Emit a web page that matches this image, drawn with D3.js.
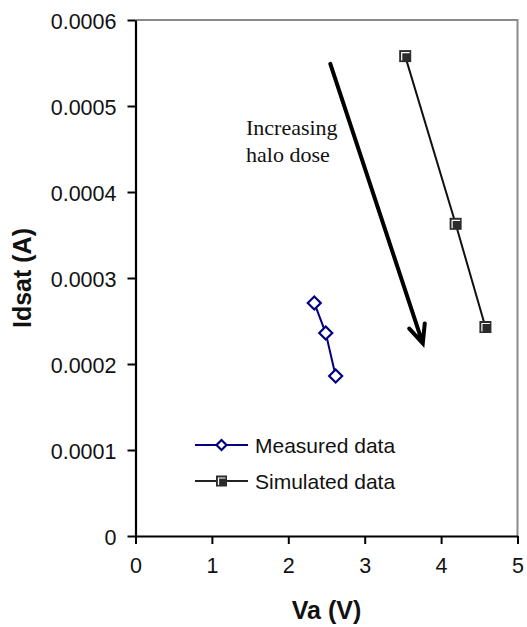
<!DOCTYPE html>
<html>
<head>
<meta charset="utf-8">
<script src="https://cdn.jsdelivr.net/npm/d3@7"></script>
<style>
  html, body { margin: 0; padding: 0; background: #fff; }
  svg { display: block; }
</style>
</head>
<body>
<svg id="chart" width="527" height="627"></svg>
<script>
// Saturation current vs. Va for measured and simulated devices
const measuredVa = [2.34, 2.49, 2.62];
const measuredIdsat = [0.000271, 0.000236, 0.000186];
const simulatedVa = [3.53, 4.19, 4.58];
const simulatedIdsat = [0.000558, 0.000363, 0.000243];

const xTicks = [0, 1, 2, 3, 4, 5];
const yTicks = [0, 0.0001, 0.0002, 0.0003, 0.0004, 0.0005, 0.0006];

// Annotation arrow endpoints (data units) and its label
const arrowStart = [2.55, 0.000549];
const arrowEnd = [3.76, 0.000224];
const arrowLabel = ["Increasing", "halo dose"];

const seriesNames = ["Measured data", "Simulated data"];

const svg = d3.select("#chart");
const plotLeft = 135.5, plotRight = 517.5, plotTop = 20, plotBottom = 536;

const x = d3.scaleLinear().domain([0, 5]).range([plotLeft, plotRight]);
const y = d3.scaleLinear().domain([0, 0.0006]).range([plotBottom, plotTop]);

const tickFont = "'Liberation Sans', Arial, sans-serif";

// plot frame: top and right edges in gray
svg.append("path")
  .attr("d", `M${plotLeft},${plotTop}H${plotRight}V${plotBottom}`)
  .attr("fill", "none")
  .attr("stroke", "#8a8a8a")
  .attr("stroke-width", 2);

// y axis
const yAxis = svg.append("g")
  .attr("transform", `translate(${plotLeft},0)`)
  .call(d3.axisLeft(y).tickValues(yTicks).tickSize(8).tickSizeOuter(0).tickPadding(11)
    .tickFormat(d => d === 0 ? "0" : d.toFixed(4)));

// x axis
const xAxis = svg.append("g")
  .attr("transform", `translate(0,${plotBottom})`)
  .call(d3.axisBottom(x).tickValues(xTicks).tickSize(8).tickSizeOuter(0).tickPadding(14)
    .tickFormat(d3.format("d")));

[yAxis, xAxis].forEach(g => {
  g.select(".domain").attr("stroke", "#000").attr("stroke-width", 2.2);
  g.selectAll(".tick line").attr("stroke", "#000").attr("stroke-width", 2);
  g.selectAll(".tick text")
    .attr("fill", "#111")
    .style("font-family", tickFont)
    .style("font-size", "21.5px");
});
yAxis.selectAll(".tick text").attr("dy", "0.38em");

// axis titles
svg.append("text")
  .attr("x", (plotLeft + plotRight) / 2)
  .attr("y", 619)
  .attr("text-anchor", "middle")
  .style("font-family", tickFont)
  .style("font-weight", "bold")
  .style("font-size", "25px")
  .attr("fill", "#111")
  .text("Va (V)");

svg.append("text")
  .attr("transform", `translate(31,${(plotTop + plotBottom) / 2}) rotate(-90)`)
  .attr("text-anchor", "middle")
  .style("font-family", tickFont)
  .style("font-weight", "bold")
  .style("font-size", "25px")
  .attr("fill", "#111")
  .text("Idsat (A)");

// series
const measured = measuredVa.map((v, i) => [v, measuredIdsat[i]]);
const simulated = simulatedVa.map((v, i) => [v, simulatedIdsat[i]]);
const line = d3.line().x(d => x(d[0])).y(d => y(d[1]));

const navy = "#000080";
const dark = "#2b2b2b";

svg.append("path")
  .datum(measured)
  .attr("d", line)
  .attr("fill", "none")
  .attr("stroke", navy)
  .attr("stroke-width", 2);

svg.append("path")
  .datum(simulated)
  .attr("d", line)
  .attr("fill", "none")
  .attr("stroke", "#111")
  .attr("stroke-width", 2);

function diamond(g, cx, cy, r) {
  g.append("path")
    .attr("d", `M${cx},${cy - r}L${cx + r},${cy}L${cx},${cy + r}L${cx - r},${cy}Z`)
    .attr("fill", "#fff")
    .attr("stroke", navy)
    .attr("stroke-width", 2.2);
}

function square(g, cx, cy, s) {
  const h = s / 2;
  g.append("rect")
    .attr("x", cx - h).attr("y", cy - h)
    .attr("width", s).attr("height", s)
    .attr("fill", dark);
  g.append("path")
    .attr("d", `M${cx - h + 2.5},${cy + h - 1.5}V${cy - h + 2.5}H${cx + h - 1.5}`)
    .attr("fill", "none")
    .attr("stroke", "#fff")
    .attr("stroke-width", 1.2);
}

const marks = svg.append("g");
measured.forEach(d => diamond(marks, x(d[0]), y(d[1]), 6.5));
simulated.forEach(d => square(marks, x(d[0]), y(d[1]), 12));

// annotation arrow
const ax0 = x(arrowStart[0]), ay0 = y(arrowStart[1]);
const ax1 = x(arrowEnd[0]), ay1 = y(arrowEnd[1]);
const ang = Math.atan2(ay1 - ay0, ax1 - ax0);
const headLen = 20, spread = 24 * Math.PI / 180;
const hx1 = ax1 - headLen * Math.cos(ang - spread), hy1 = ay1 - headLen * Math.sin(ang - spread);
const hx2 = ax1 - headLen * Math.cos(ang + spread), hy2 = ay1 - headLen * Math.sin(ang + spread);

svg.append("path")
  .attr("d", `M${ax0},${ay0}L${ax1},${ay1}M${hx1},${hy1}L${ax1},${ay1}L${hx2},${hy2}`)
  .attr("fill", "none")
  .attr("stroke", "#000")
  .attr("stroke-width", 4)
  .attr("stroke-linecap", "round")
  .attr("stroke-linejoin", "miter");

const label = svg.append("text")
  .attr("x", 246)
  .attr("y", 135)
  .style("font-family", "'Liberation Serif', 'Times New Roman', serif")
  .style("font-size", "22px")
  .attr("fill", "#111");
arrowLabel.forEach((t, i) => {
  label.append("tspan").attr("x", 246).attr("dy", i === 0 ? 0 : 27).text(t);
});

// legend
const legend = svg.append("g");
const legRows = [445, 481];
legRows.forEach((ly, i) => {
  legend.append("line")
    .attr("x1", 195).attr("x2", 248)
    .attr("y1", ly).attr("y2", ly)
    .attr("stroke", i === 0 ? navy : "#222")
    .attr("stroke-width", 2);
  if (i === 0) diamond(legend, 221.5, ly, 5);
  else square(legend, 221.5, ly, 11);
  legend.append("text")
    .attr("x", 255)
    .attr("y", ly)
    .attr("dy", "0.36em")
    .style("font-family", tickFont)
    .style("font-size", "21px")
    .attr("fill", "#111")
    .text(seriesNames[i]);
});
</script>
</body>
</html>
